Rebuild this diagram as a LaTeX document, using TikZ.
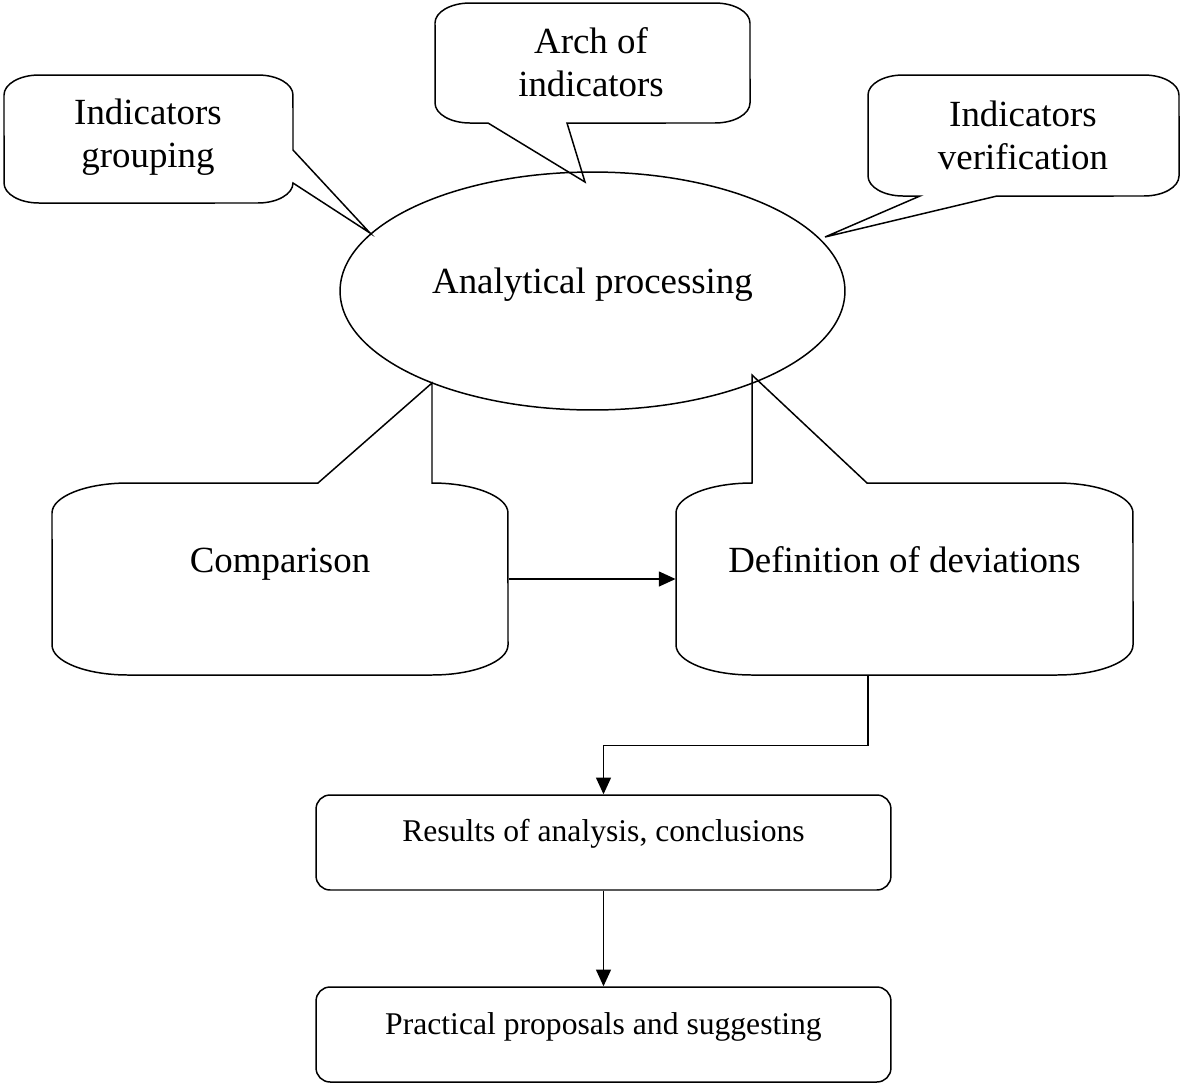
\documentclass[tikz,border=0pt]{standalone}
\usepackage{fontspec}
\setmainfont{Liberation Serif}
\usetikzlibrary{shapes, calc, arrows.meta, positioning}

\begin{document}
\begin{tikzpicture}[x=0.02cm,y=-0.02cm,line width=0.85pt,>={Triangle[length=9.5pt,width=8.5pt]},
	bigtext/.style={font=\fontsize{21}{24.5}\selectfont,align=center},
	smalltext/.style={font=\fontsize{18}{21}\selectfont}]
	\tikzset{callbox/.style={minimum width=9.13cm,minimum height=3.84cm,inner sep=0pt},
		resbox/.style={draw,rounded corners=0.28cm,minimum width=11.5cm,minimum height=1.9cm,inner sep=0pt},
		smallcorner/.style={x radius=0.7cm,y radius=0.4cm},
		bigcorner/.style={x radius=1.52cm,y radius=0.6cm}}
	\useasboundingbox (0,0) rectangle (1181,1086);
	% centre
	\node[draw,ellipse,minimum width=10.1cm,minimum height=4.76cm,
		label={[bigtext,yshift=0.12cm]center:Analytical processing}] (ana) at (592.5,291) {};
	% callouts on top
	\node[bigtext] (grp) at (148,137) {Indicators\\grouping};
	\node[bigtext] (arch) at (591,62) {Arch of\\indicators};
	\node[bigtext] (ver) at (1023,135) {Indicators\\verification};
	\draw[smallcorner] (39,75) -- (258,75) arc[start angle=90,end angle=0] -- (293,150) -- (370,233)
		-- (293,183) arc[start angle=0,end angle=-90] -- (39,203) arc[start angle=270,end angle=180]
		-- (4,95) arc[start angle=180,end angle=90] -- cycle;
	\draw[smallcorner] (470,3) -- (715,3) arc[start angle=90,end angle=0] -- (750,103) arc[start angle=0,end angle=-90]
		-- (567,123) -- (585,182) -- (488,123) -- (470,123) arc[start angle=270,end angle=180]
		-- (435,23) arc[start angle=180,end angle=90] -- cycle;
	\draw[smallcorner] (903,75) -- (1144,75) arc[start angle=90,end angle=0] -- (1179,176) arc[start angle=0,end angle=-90]
		-- (997,196) -- (825,237) -- (920,196) -- (903,196) arc[start angle=270,end angle=180]
		-- (868,95) arc[start angle=180,end angle=90] -- cycle;
	% callouts below
	\node[callbox,label={[bigtext,yshift=0.29cm]center:Comparison}] (cmp) at (280,579) {};
	\node[callbox,label={[bigtext,yshift=0.38cm]center:Definition of deviations}] (dev) at (904.5,579) {};
	\draw[bigcorner] (128,483) -- (318,483) -- (432,383) -- (432,483) arc[start angle=90,end angle=0]
		-- (508,645) arc[start angle=0,end angle=-90] -- (128,675) arc[start angle=270,end angle=180]
		-- (52,513) arc[start angle=180,end angle=90] -- cycle;
	\draw[bigcorner] (752,483) -- (752,375) -- (867,483) -- (1057,483) arc[start angle=90,end angle=0]
		-- (1133,645) arc[start angle=0,end angle=-90] -- (752,675) arc[start angle=270,end angle=180]
		-- (676,513) arc[start angle=180,end angle=90] -- cycle;
	% results
	\node[resbox,label={[smalltext,yshift=0.17cm]center:{Results of analysis, conclusions}}] (res) at (603.5,842.5) {};
	\node[resbox,label={[smalltext,yshift=0.15cm]center:{Practical proposals and suggesting}}] (prop) at (603.5,1034.5) {};
	\path[->]
		(cmp) edge (dev)
		(res) edge (prop);
	\draw[->] ([xshift=-0.73cm]dev.south) -- ++(0,70) -| (res.north);
\end{tikzpicture}
\end{document}
